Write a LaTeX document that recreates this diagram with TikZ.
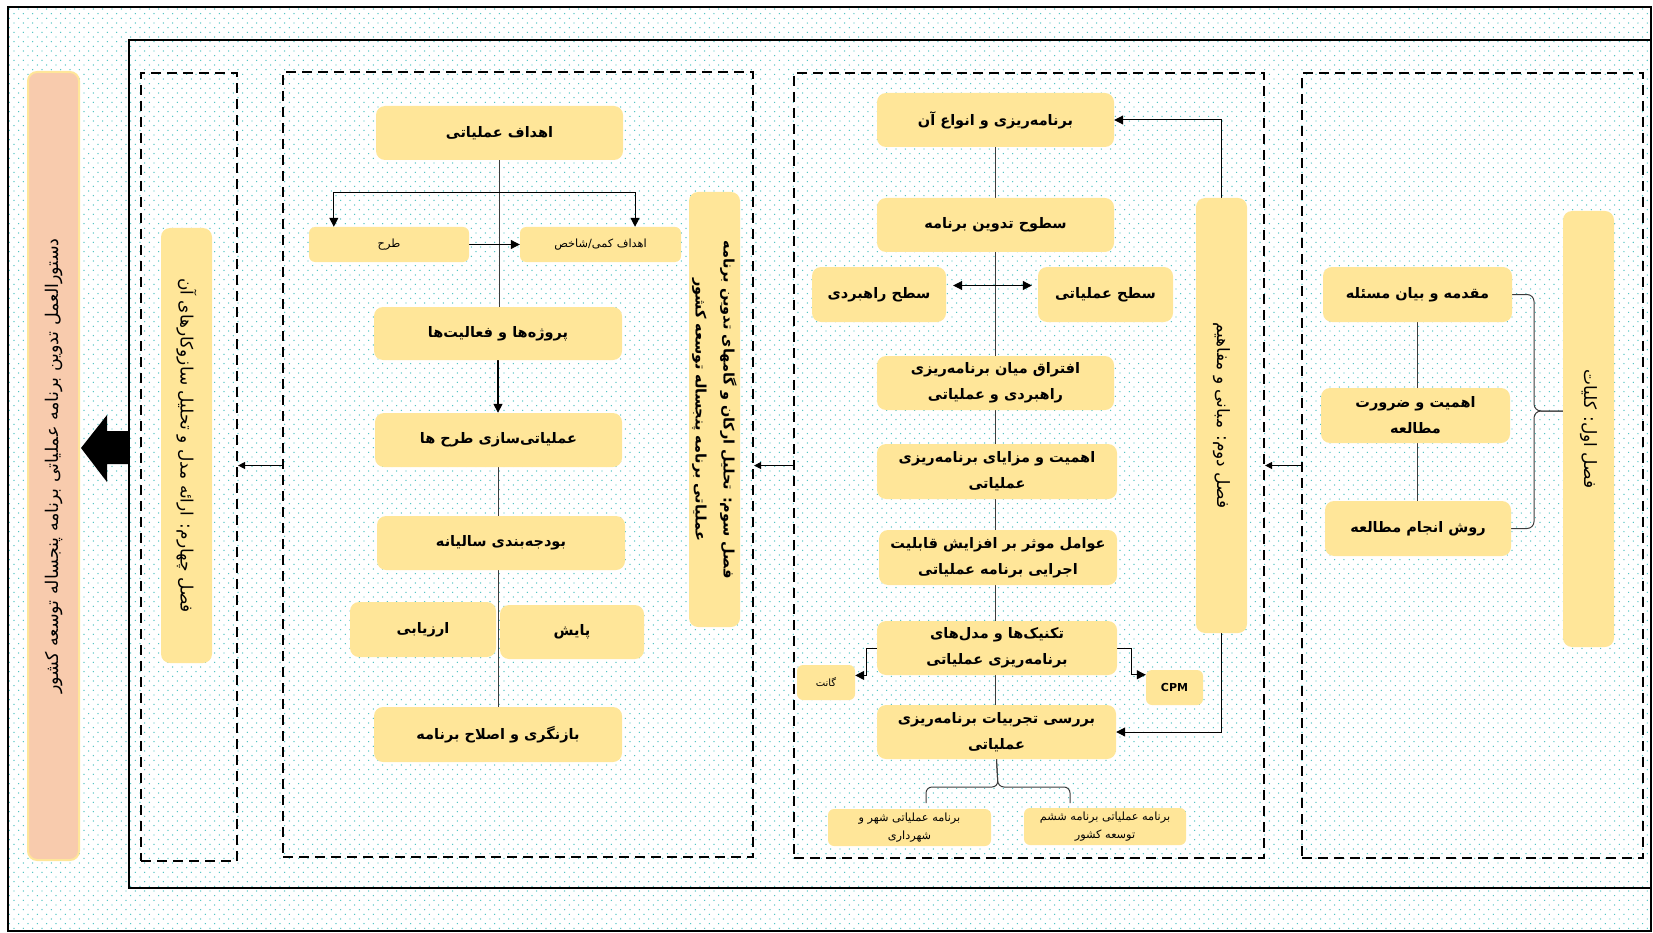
\documentclass[tikz,border=0pt]{standalone}
\usepackage{fontspec}
\usetikzlibrary{arrows.meta,calc,patterns}
\TeXXeTstate=1
\newfontfamily\fa[Script=Arabic]{DejaVu Sans}
\newcommand\rl[1]{\beginR#1\endR}
\definecolor{boxfill}{RGB}{255,230,153}
\definecolor{salmon}{RGB}{248,203,173}
\definecolor{dotcol}{RGB}{70,190,190}
\definecolor{linecol}{RGB}{60,60,60}
% staggered dot texture of the page
\pgfdeclarepatternformonly{bgdots}{\pgfpoint{-1pt}{-1pt}}{\pgfpoint{8.333pt}{8.333pt}}{\pgfpoint{9.333pt}{9.333pt}}{%
  \pgfpathcircle{\pgfpointorigin}{0.7pt}%
  \pgfpathcircle{\pgfpoint{4.667pt}{4.667pt}}{0.7pt}%
  \pgfusepath{fill}}
\pgfdeclarelayer{bg}
\pgfdeclarelayer{wires}
\pgfsetlayers{bg,wires,main}
\tikzset{
  box/.style={fill=boxfill, rounded corners=9pt, inner sep=2pt, align=center,
    text=black, font=\fa\bfseries\fontsize{14.5}{26}\selectfont},
  smallbox/.style={box, rounded corners=6pt, font=\fa\fontsize{11.3}{18}\selectfont},
  chapter/.style={box, font=\fa\fontsize{17}{28}\selectfont},
  dashbox/.style={draw, line width=2.2pt, dash pattern=on 10pt off 6pt, inner sep=0pt},
  wire/.style={draw=linecol, line width=1pt},
  arr/.style={draw=black, line width=1pt, -{Triangle[length=9pt,width=9pt]}},
  arrs/.style={draw=black, line width=1pt, -{Triangle[length=7pt,width=7pt]}},
  arrboth/.style={draw=black, line width=1pt, {Triangle[length=9pt,width=9pt]}-{Triangle[length=9pt,width=9pt]}},
}
% box given by its corners: [style]{name}{x1}{y1}{x2}{y2}{text}
\newcommand\bx[7][]{\node[box,#1,minimum width={(#5-#3)*1pt},minimum height={(#6-#4)*1pt}] (#2) at ({(#3+#5)/2},{(#4+#6)/2}) {#7};}
% upright box with turned text: [style]{name}{x1}{y1}{x2}{y2}{angle}{text}
\newcommand\vbx[8][]{\node[chapter,#1,rotate=#7,minimum width={(#6-#4)*1pt},minimum height={(#5-#3)*1pt}] (#2) at ({(#3+#5)/2},{(#4+#6)/2}) {#8};}
% dashed chapter frame
\newcommand\dbx[5]{\node[dashbox,minimum width={(#4-#2)*1pt},minimum height={(#5-#3)*1pt}] (#1) at ({(#2+#4)/2},{(#3+#5)/2}) {};}

\begin{document}
\begin{tikzpicture}[x=1pt,y=-1pt]
\useasboundingbox (0,0) rectangle (1653,933);

\begin{pgfonlayer}{bg}
  \fill[pattern=bgdots, pattern color=dotcol] (8,7) rectangle (1651,931);
  \draw[line width=2pt] (8,7) rectangle (1651,931);
  \draw[line width=2.5pt] (129,40) rectangle (1651,888);
\end{pgfonlayer}

% chapter frames
\dbx{d1}{1302}{73}{1643}{858}
\dbx{d2}{794}{73}{1264}{858}
\dbx{d3}{283}{72}{753}{857}
\dbx{d4}{141}{73}{237}{861}

% outcome
\vbx[fill=salmon, draw=boxfill, line width=2pt, font=\fa\fontsize{17.5}{28}\selectfont]{goal}{28}{72}{79}{860}{90}{\rl{دستورالعمل تدوین برنامه عملیاتی برنامه پنجساله توسعه کشور}}
\fill (129,431) -- (107,431) -- (107,415) -- (81,448) -- (107,482) -- (107,464) -- (129,464) -- cycle;

% chapter 4
\vbx{ch4title}{161}{228}{212}{663}{-90}{\rl{فصل چهارم: ارائه مدل و تحلیل سازوکارهای آن}}

% chapter 3
\bx{obj}{376}{106}{623}{160}{\rl{اهداف عملیاتی}}
\bx[smallbox]{tarh}{309}{227}{469}{262}{\rl{طرح}}
\bx[smallbox]{kami}{520}{227}{681}{262}{\rl{اهداف کمی/شاخص}}
\bx{proj}{374}{307}{622}{360}{\rl{پروژه‌ها و فعالیت‌ها}}
\bx{oper}{375}{413}{622}{467}{\rl{عملیاتی‌سازی طرح ها}}
\bx{budget}{377}{516}{625}{570}{\rl{بودجه‌بندی سالیانه}}
\bx{eval}{350}{602}{496}{657}{\rl{ارزیابی}}
\bx{monit}{500}{605}{644}{659}{\rl{پایش}}
\bx{revise}{374}{707}{622}{762}{\rl{بازنگری و اصلاح برنامه}}
\vbx[font=\fa\bfseries\fontsize{14.5}{28}\selectfont]{ch3title}{689}{192}{740}{627}{-90}{\rl{فصل سوم: تحلیل ارکان و گامهای تدوین برنامه}\\\rl{عملیاتی برنامه پنجساله توسعه کشور}}

% chapter 2
\bx{plan}{877}{93}{1114}{147}{\rl{برنامه‌ریزی و انواع آن}}
\bx{levels}{877}{198}{1114}{252}{\rl{سطوح تدوین برنامه}}
\bx{strat}{812}{267}{946}{322}{\rl{سطح راهبردی}}
\bx{opl}{1038}{267}{1173}{322}{\rl{سطح عملیاتی}}
\bx{diff}{877}{356}{1114}{410}{\rl{افتراق میان برنامه‌ریزی}\\\rl{راهبردی و عملیاتی}}
\bx{imp}{877}{444}{1117}{499}{\rl{اهمیت و مزایای برنامه‌ریزی}\\\rl{عملیاتی}}
\bx{fact}{879}{530}{1117}{585}{\rl{عوامل موثر بر افزایش قابلیت}\\\rl{اجرایی برنامه عملیاتی}}
\bx{tech}{877}{621}{1117}{675}{\rl{تکنیک‌ها و مدل‌های}\\\rl{برنامه‌ریزی عملیاتی}}
\bx{review}{877}{705}{1116}{759}{\rl{بررسی تجربیات برنامه‌ریزی}\\\rl{عملیاتی}}
\bx[smallbox, font=\fa\fontsize{10}{14}\selectfont]{gantt}{797}{665}{855}{700}{\rl{گانت}}
\bx[smallbox, font=\fa\bfseries\fontsize{11}{14}\selectfont]{cpm}{1146}{670}{1203}{705}{CPM}
\bx[smallbox]{city}{828}{809}{991}{846}{\rl{برنامه عملیاتی شهر و}\\\rl{شهرداری}}
\bx[smallbox]{natl}{1024}{808}{1186}{845}{\rl{برنامه عملیاتی برنامه ششم}\\\rl{توسعه کشور}}
\vbx{ch2title}{1196}{198}{1247}{633}{-90}{\rl{فصل دوم: مبانی و مفاهیم}}

% chapter 1
\bx{intro}{1323}{267}{1512}{322}{\rl{مقدمه و بیان مسئله}}
\bx{need}{1321}{388}{1510}{443}{\rl{اهمیت و ضرورت}\\\rl{مطالعه}}
\bx{method}{1325}{501}{1511}{556}{\rl{روش انجام مطالعه}}
\vbx{ch1title}{1563}{211}{1614}{647}{-90}{\rl{فصل اول: کلیات}}

\begin{pgfonlayer}{wires}
  % chapter 3 flow
  \coordinate (split) at (499.5,193);
  \draw[wire] (obj.south) -- (obj.south |- proj.north);
  \draw[arr] (split) -| ($(tarh.north west)!0.156!(tarh.north east)$);
  \draw[arr] (split) -| ($(kami.north west)!0.714!(kami.north east)$);
  \draw[arr] (tarh.east) -- (kami.west);
  \draw[arr, line width=1.5pt] (proj.south) -- (proj.south |- oper.north);
  \draw[wire] (oper.south) -- (oper.south |- budget.north);
  \draw[wire] (oper.south |- budget.south) -- (oper.south |- revise.north);

  % chapter 2 flow
  \draw[wire] (plan.south) -- (plan.south |- review.north);
  \draw[arr] (ch2title.west) |- (plan.east);
  \draw[arr] (ch2title.east) |- (review.east);
  \draw[arrboth] ($(strat.east)+(7,-9)$) -- ($(opl.west)+(-6,-9)$);
  \draw[arr] (tech.west) -- ++(-10,0) |- ($(gantt.north east)!0.3!(gantt.south east)$);
  \draw[arr] (tech.east) -- ++(14,0) |- ($(cpm.north west)!0.14!(cpm.south west)$);
  \coordinate (bm) at (998,787);
  \coordinate (bl) at (926,803);
  \coordinate (br) at (1070,803);
  \draw[wire, rounded corners=6pt] (bl) |- (bm) -- (review.south);
  \draw[wire, rounded corners=6pt] (br) |- (bm) -- (review.south);

  % chapter 1 flow
  \draw[wire] (intro.south) -- (intro.south |- need.north);
  \draw[wire] (intro.south |- need.south) -- (intro.south |- method.north);
  \coordinate (c1) at (1534,411);
  \draw[wire, rounded corners=7pt] (intro.east) -| (c1) -- (ch1title.south |- c1);
  \draw[wire, rounded corners=7pt] (method.east) -| (c1) -- (ch1title.south |- c1);

  % between chapters
  \draw[arrs] (d1.west) -- (d1.west -| d2.east);
  \draw[arrs] (d1.west -| d2.west) -- (d1.west -| d3.east);
  \draw[arrs] (d1.west -| d3.west) -- (d1.west -| d4.east);
\end{pgfonlayer}
\end{tikzpicture}
\end{document}
